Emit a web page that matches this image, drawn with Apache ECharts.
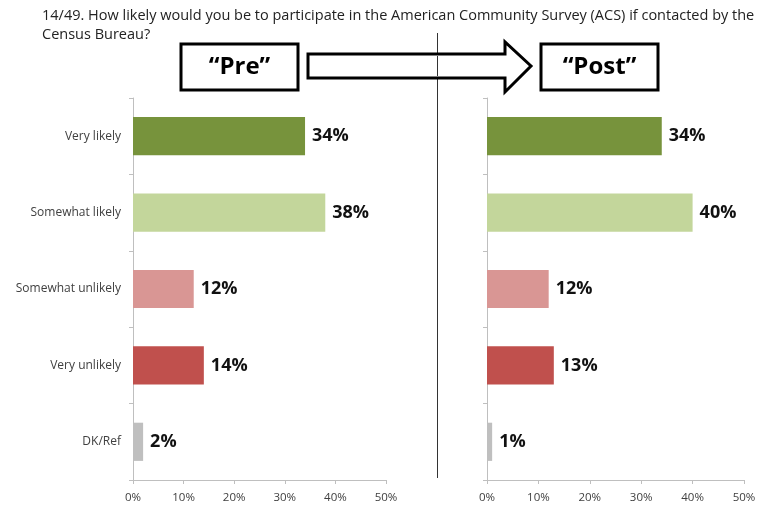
<!DOCTYPE html>
<html>
<head>
<meta charset="utf-8">
<script src="https://cdn.jsdelivr.net/npm/echarts@6/dist/echarts.min.js"></script>
<style>
  html, body { margin: 0; padding: 0; background: #fff; }
  #chart { width: 778px; height: 508px; }
</style>
</head>
<body>
<div id="chart"></div>
<script>
// Survey responses, before and after
const categories = ['Very likely', 'Somewhat likely', 'Somewhat unlikely', 'Very unlikely', 'DK/Ref'];
const preValues = [34, 38, 12, 14, 2];
const postValues = [34, 40, 12, 13, 1];
const xTicks = [0, 10, 20, 30, 40, 50];
const barColors = ['#77933C', '#C3D69B', '#D99694', '#C0504D', '#BFBFBF'];

const questionLine1 = '14/49. How likely would you be to participate in the American Community Survey (ACS) if contacted by the';
const questionLine2 = 'Census Bureau?';

const chart = echarts.init(document.getElementById('chart'), null, { renderer: 'canvas' });

const fontFamily = '"Open Sans", "Noto Sans", sans-serif';
const axisGray = '#BFBFBF';

function valueAxis(gridIndex) {
  return {
    type: 'value',
    gridIndex: gridIndex,
    min: xTicks[0],
    max: xTicks[xTicks.length - 1],
    interval: xTicks[1] - xTicks[0],
    axisLine: { show: true, lineStyle: { color: axisGray, width: 1 } },
    axisTick: { show: true, length: 4, lineStyle: { color: axisGray } },
    splitLine: { show: false },
    axisLabel: {
      formatter: '{value}%',
      fontFamily: fontFamily,
      fontSize: 11.5,
      color: '#404040',
      margin: 12
    }
  };
}

function categoryAxis(gridIndex, showLabels) {
  return {
    type: 'category',
    gridIndex: gridIndex,
    data: categories,
    inverse: true,
    axisLine: { show: true, lineStyle: { color: axisGray, width: 1 } },
    axisTick: { show: true, length: 4, lineStyle: { color: axisGray } },
    axisLabel: {
      show: showLabels,
      fontFamily: fontFamily,
      fontSize: 12,
      color: '#404040',
      margin: 12
    }
  };
}

function barSeries(values, index) {
  return {
    type: 'bar',
    xAxisIndex: index,
    yAxisIndex: index,
    barWidth: '50%',
    data: values.map((v, i) => ({ value: v, itemStyle: { color: barColors[i] } })),
    label: {
      show: true,
      position: 'right',
      distance: 7,
      formatter: '{c}%',
      fontFamily: fontFamily,
      fontWeight: 'bold',
      fontSize: 18,
      color: '#111'
    },
    silent: true
  };
}

// Box with a quoted heading
function headingBox(x, label) {
  return [
    {
      type: 'rect',
      shape: { x: x, y: 44, width: 117, height: 46 },
      style: { fill: '#fff', stroke: '#000', lineWidth: 3 }
    },
    {
      type: 'text',
      x: x + 58.5,
      y: 67,
      style: {
        text: label,
        fill: '#000',
        font: 'bold 24px ' + fontFamily,
        textAlign: 'center',
        textVerticalAlign: 'middle'
      }
    }
  ];
}

chart.setOption({
  animation: false,
  backgroundColor: '#fff',
  grid: [
    { left: 133, top: 98, width: 253, height: 382 },
    { left: 487, top: 98, width: 257, height: 382 }
  ],
  xAxis: [valueAxis(0), valueAxis(1)],
  yAxis: [categoryAxis(0, true), categoryAxis(1, false)],
  series: [barSeries(preValues, 0), barSeries(postValues, 1)],
  graphic: [
    {
      type: 'text',
      x: 42,
      y: 8,
      style: { text: questionLine1, fill: '#222', font: '14.5px ' + fontFamily }
    },
    {
      type: 'text',
      x: 42,
      y: 27,
      style: { text: questionLine2, fill: '#222', font: '14.5px ' + fontFamily }
    },
    // divider between the two panels
    {
      type: 'line',
      shape: { x1: 437.5, y1: 33, x2: 437.5, y2: 478 },
      style: { stroke: '#333', lineWidth: 1 }
    },
    // arrow from "Pre" to "Post"
    {
      type: 'polygon',
      shape: {
        points: [[308, 54], [505, 54], [505, 42], [531, 66], [505, 92], [505, 78], [308, 78]]
      },
      style: { fill: '#fff', stroke: '#000', lineWidth: 3, lineJoin: 'miter' }
    },
    {
      type: 'line',
      shape: { x1: 437.5, y1: 56, x2: 437.5, y2: 76 },
      style: { stroke: '#333', lineWidth: 1 }
    },
    ...headingBox(181, '\u201CPre\u201D'),
    ...headingBox(541, '\u201CPost\u201D')
  ]
});
</script>
</body>
</html>
